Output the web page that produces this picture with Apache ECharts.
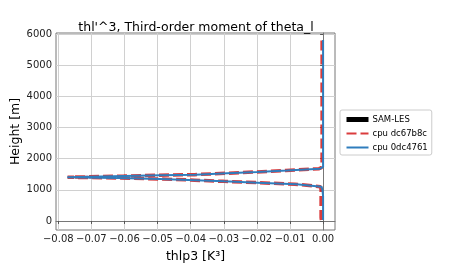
<!DOCTYPE html>
<html><head><meta charset="utf-8">
<script src="https://cdn.jsdelivr.net/npm/echarts@6/dist/echarts.min.js"></script>
<style>html,body{margin:0;padding:0;background:#fff}#c{width:450px;height:270px}</style>
</head><body><div id="c"></div>
<script>
var title = "thl'^3, Third-order moment of theta_l";
var xTicks = [-0.08, -0.07, -0.06, -0.05, -0.04, -0.03, -0.02, -0.01, 0.00];
var yTicks = [0, 1000, 2000, 3000, 4000, 5000, 6000];
var seriesNames = ['SAM-LES', 'cpu dc67b8c', 'cpu 0dc4761'];
var heights = [30, 100, 200, 400, 600, 800, 1000, 1100, 1145, 1180, 1229, 1270, 1309, 1348, 1380, 1402, 1440, 1466, 1486, 1530, 1572, 1620, 1678, 1710, 1733, 1800, 2000, 3000, 4000, 5000, 5807];
var samValues = [];
var dcValues = [-0.0005, -0.0006, -0.0006, -0.0006, -0.0006, -0.0006, -0.0006, -0.0008, -0.0011, -0.0085, -0.0200, -0.0300, -0.0388, -0.0494, -0.0620, -0.0772, -0.0602, -0.0494, -0.0388, -0.0292, -0.0201, -0.0112, -0.0012, -0.0005, -0.0003, -0.0003, -0.0003, -0.0003, -0.0003, -0.0003, -0.0003];
var cpuValues = [0, 0, 0, 0, 0, 0, -0.0002, -0.0005, -0.0009, -0.0080, -0.0199, -0.0300, -0.0386, -0.0492, -0.0620, -0.0773, -0.0600, -0.0492, -0.0386, -0.0290, -0.0199, -0.0110, -0.0009, -0.0003, 0, 0, 0, 0, 0, 0, 0];

function pairs(vals){ return vals.map(function(v,i){ return [v, heights[i]]; }); }
var font = 'DejaVu Sans';
var chart = echarts.init(document.getElementById('c'), null, {renderer:'canvas'});
chart.setOption({
  animation: false,
  backgroundColor: '#fff',
  title: { text: title, left: 191, textAlign: 'center', top: 16,
    textStyle: { fontFamily: font, fontSize: 12.5, fontWeight: 'normal', color: '#000' } },
  grid: { left: 56, right: 115, top: 33, bottom: 40, show: true, borderColor: '#777', borderWidth: 1,
    backgroundColor: 'transparent', containLabel: false, outerBoundsMode: 'none' },
  legend: {
    orient: 'vertical', left: 340, top: 110, selectedMode: false,
    data: [
      { name: seriesNames[0], lineStyle: { width: 5 } },
      { name: seriesNames[1] },
      { name: seriesNames[2] }
    ],
    itemWidth: 22, itemHeight: 8, itemGap: 5,
    borderColor: '#ccc', borderWidth: 1, borderRadius: 2, padding: [5, 4, 3, 4],
    backgroundColor: '#fff',
    itemStyle: { opacity: 0 },
    textStyle: { fontFamily: font, fontSize: 8.5, color: '#000', padding: [0,0,0,-1] }
  },
  xAxis: {
    type: 'value', min: -0.0807, max: 0.0036,
    name: 'thlp3 [K³]', nameLocation: 'middle', nameGap: 20, nameMoveOverlap: false,
    nameTextStyle: { fontFamily: font, fontSize: 12.5, color: '#000' },
    axisLine: { show: true, lineStyle: { color: '#777' } },
    axisTick: { show: true, length: 3, customValues: xTicks, lineStyle: { color: '#555' } },
    axisLabel: { customValues: xTicks, fontFamily: font, fontSize: 10, color: '#222', margin: 4,
      formatter: function(v){ return (v < -1e-9 ? '\u2212' : '') + Math.abs(v).toFixed(2); } },
    splitLine: { show: true, lineStyle: { color: '#d0d0d0', width: 1 } }
  },
  yAxis: {
    type: 'value', min: -290, max: 6030,
    name: 'Height [m]', nameLocation: 'middle', nameGap: 34, nameMoveOverlap: false,
    nameTextStyle: { fontFamily: font, fontSize: 12.5, color: '#000' },
    axisLine: { show: true, lineStyle: { color: '#777' } },
    axisTick: { show: true, length: 3, customValues: yTicks, lineStyle: { color: '#555' } },
    axisLabel: { customValues: yTicks, fontFamily: font, fontSize: 10, color: '#222', margin: 4,
      formatter: function(v){ return String(Math.round(v)); } },
    splitLine: { show: true, lineStyle: { color: '#d0d0d0', width: 1 } }
  },
  series: [
    { name: seriesNames[0], type: 'line', data: pairs(samValues), symbol: 'none',
      lineStyle: { color: '#000', width: 5 }, itemStyle: { color: '#000' } },
    { name: seriesNames[1], type: 'line', data: pairs(dcValues), symbol: 'none',
      lineStyle: { color: '#d62728', width: 3.5, type: [10, 4], opacity: 0.9 }, itemStyle: { color: '#d62728' }, z: 3 },
    { name: seriesNames[2], type: 'line', data: pairs(cpuValues), symbol: 'none',
      lineStyle: { color: '#2f7dbd', width: 2 }, itemStyle: { color: '#2f7dbd' }, z: 4 }
  ]
});
</script></body></html>
